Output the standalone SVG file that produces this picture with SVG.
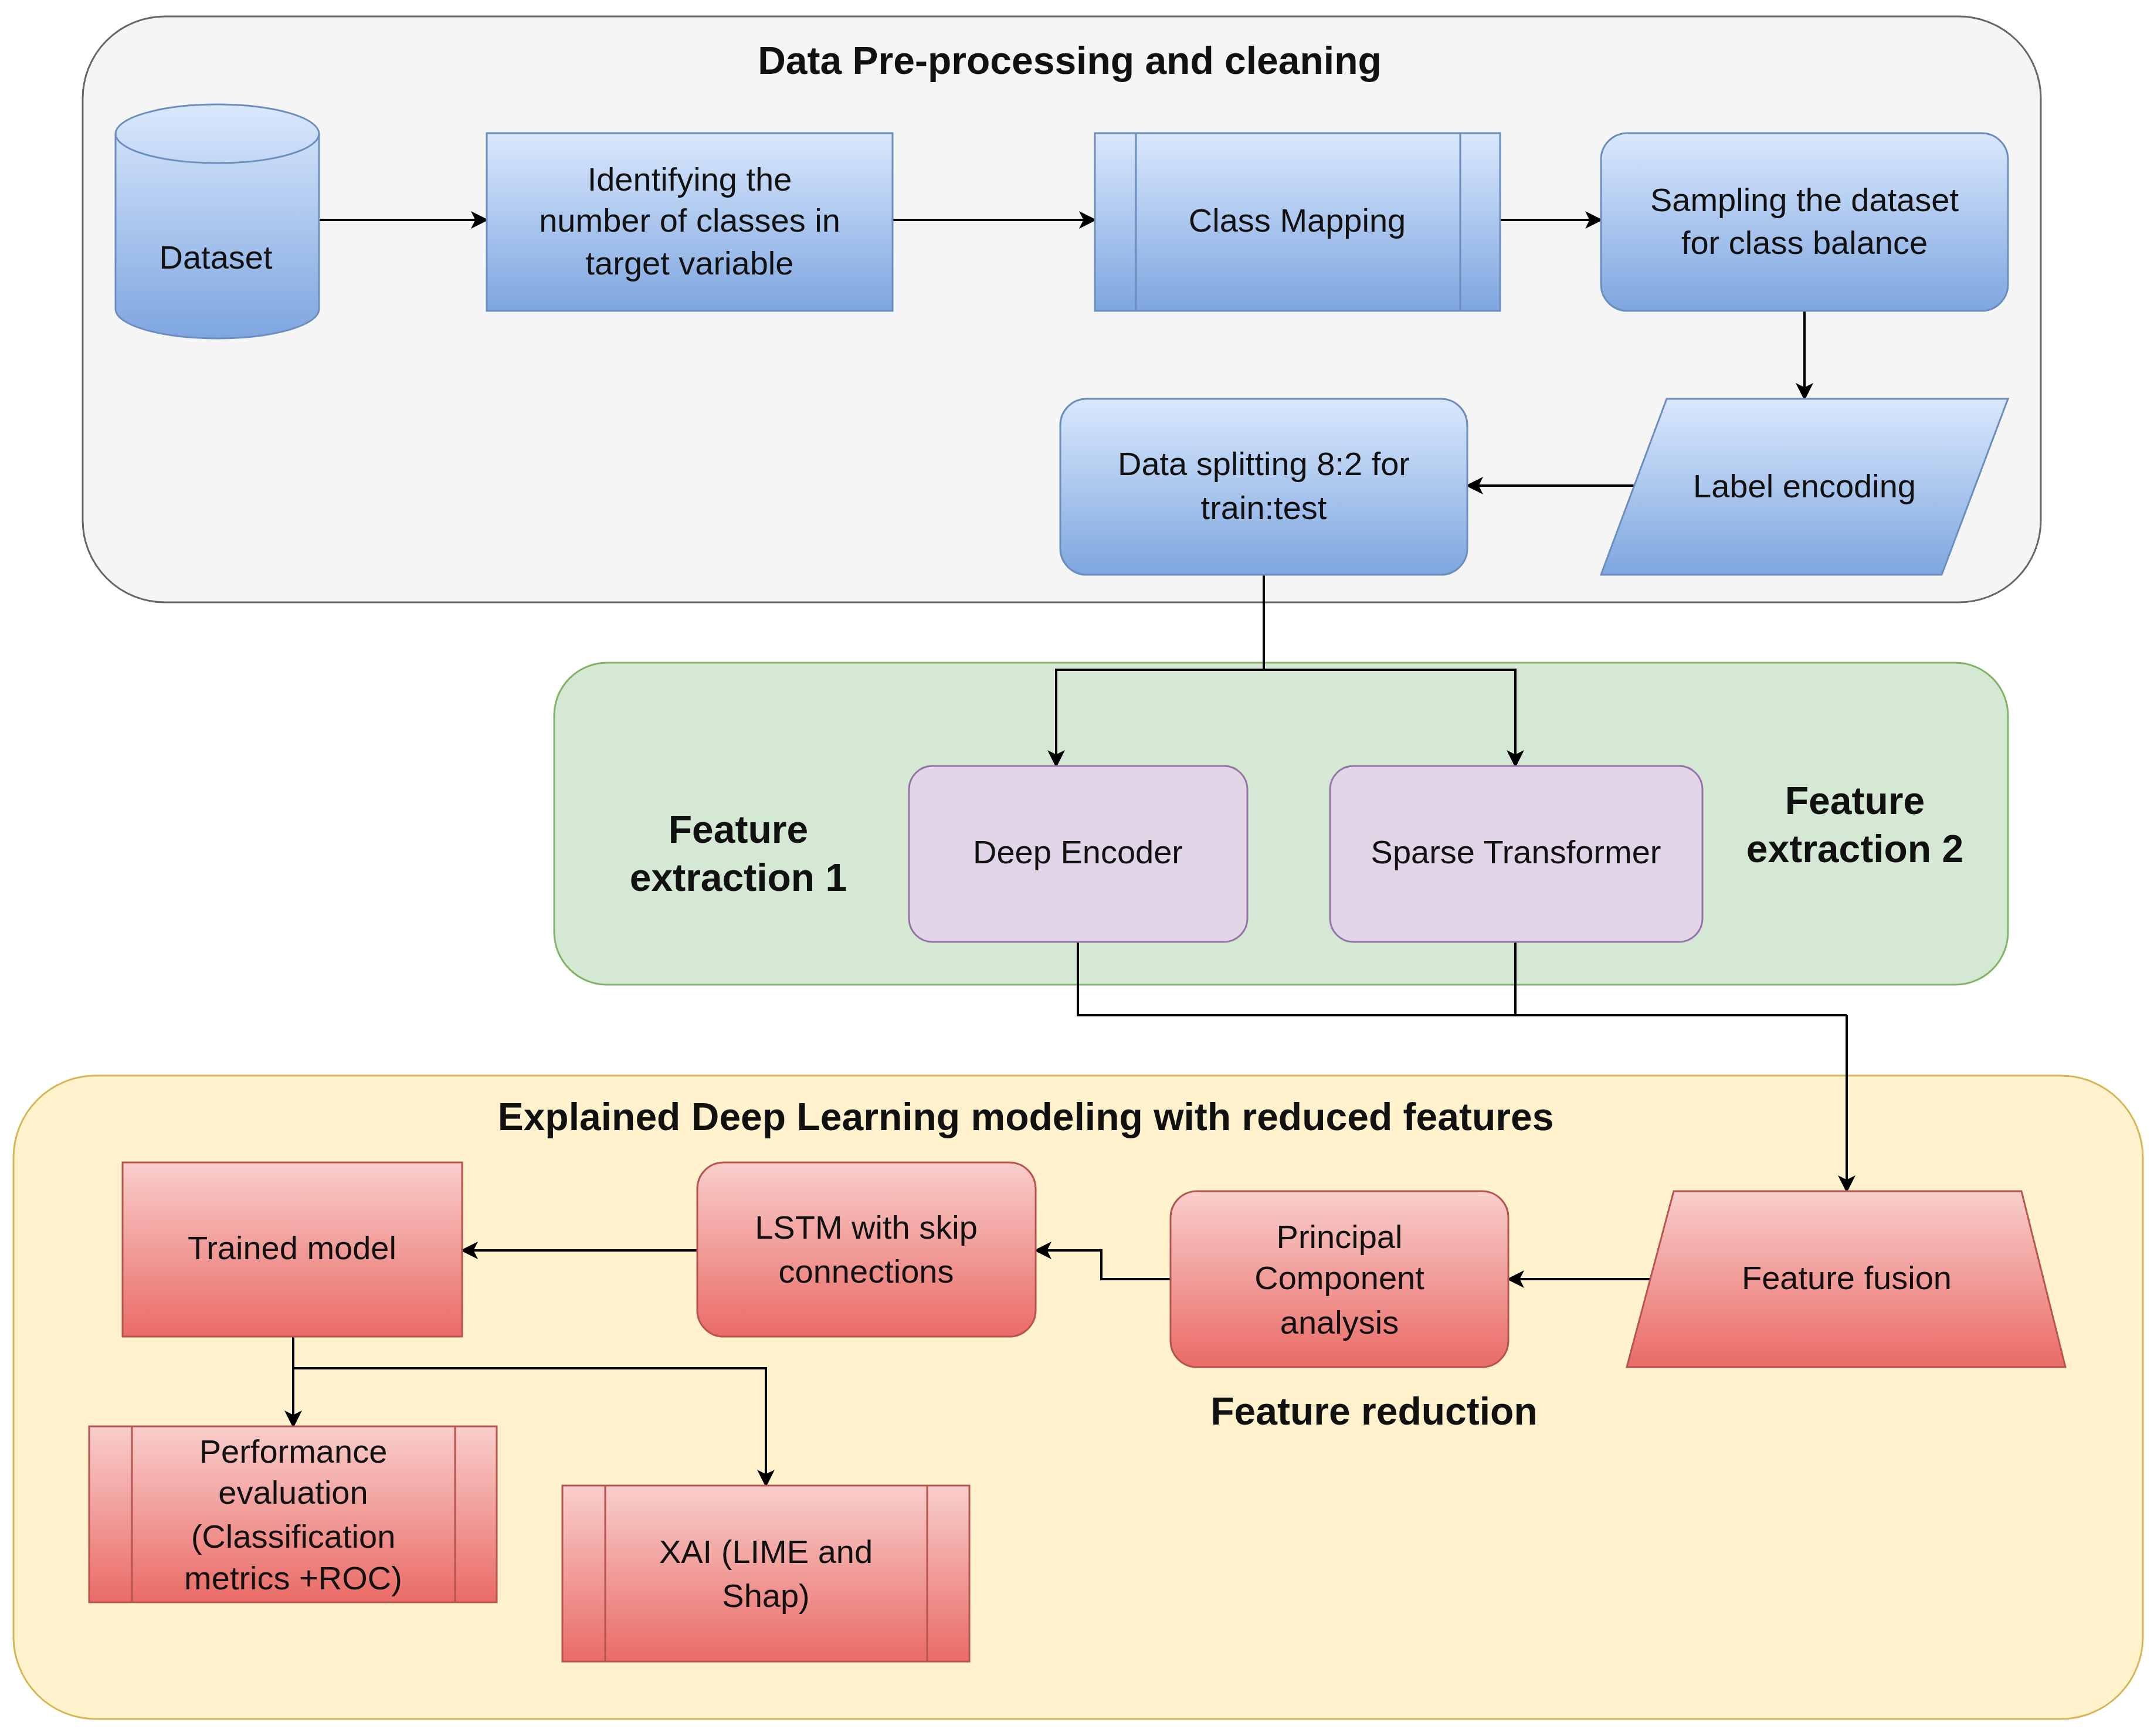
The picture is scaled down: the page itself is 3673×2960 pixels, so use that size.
<svg xmlns="http://www.w3.org/2000/svg" width="3673" height="2960" viewBox="0 0 3673 2960">
<defs>
<linearGradient id="gb" x1="0" y1="0" x2="0" y2="1"><stop offset="0" stop-color="#dae8fc"/><stop offset="1" stop-color="#7ea6e0"/></linearGradient>
<linearGradient id="gr" x1="0" y1="0" x2="0" y2="1"><stop offset="0" stop-color="#f8cecc"/><stop offset="1" stop-color="#ea6b66"/></linearGradient>
<marker id="ar" viewBox="0 0 10 10" refX="9" refY="5" markerWidth="10" markerHeight="10" markerUnits="userSpaceOnUse" orient="auto"><path d="M0,0 L10,5 L0,10 L2.5,5 Z" fill="#000"/></marker>
<marker id="a" viewBox="0 0 10 10" refX="9" refY="5" markerWidth="30" markerHeight="30" markerUnits="userSpaceOnUse" orient="auto"><path d="M0,0 L10,5 L0,10 L2.5,5 Z" fill="#000"/></marker>
</defs>
<style>
.b{fill:url(#gb);stroke:#6c8ebf;stroke-width:3}
.r{fill:url(#gr);stroke:#b85450;stroke-width:3}
.p{fill:#e1d5e7;stroke:#9673a6;stroke-width:3}
.t{font-family:"Liberation Sans",Arial,sans-serif;font-size:56px;fill:#111;text-anchor:middle;dominant-baseline:central}
.h{font-family:"Liberation Sans",Arial,sans-serif;font-size:66px;font-weight:bold;fill:#111;text-anchor:middle;dominant-baseline:central}
.c{fill:none;stroke:#000;stroke-width:4;marker-end:url(#a)}
.n{fill:none;stroke:#000;stroke-width:4}
</style>
<rect width="3673" height="2960" fill="#fff"/>
<g id="containers">
<rect x="141" y="28" width="3339" height="999" rx="140" fill="#f5f5f5" stroke="#666" stroke-width="3"/>
<rect x="945" y="1130" width="2479" height="549" rx="90" fill="#d5e8d4" stroke="#82b366" stroke-width="3"/>
<rect x="23" y="1834" width="3631" height="1097" rx="140" fill="#fff2cc" stroke="#d6b656" stroke-width="3"/>
<text class="h" x="1824" y="103">Data Pre-processing and cleaning</text>
<text class="h" x="1749" y="1904">Explained Deep Learning modeling with reduced features</text>
<text class="h" x="1259" y="1414">Feature</text><text class="h" x="1259" y="1496">extraction 1</text>
<text class="h" x="3163" y="1365">Feature</text><text class="h" x="3163" y="1447">extraction 2</text>
<text class="h" x="2343" y="2406">Feature reduction</text>
</g>
<g id="connectors">
<path class="c" d="M544,375 H830"/>
<path class="c" d="M1522,375 H1867"/>
<path class="c" d="M2558,375 H2730"/>
<path class="c" d="M3077,530 V680"/>
<path class="c" d="M2786,828 H2502"/>
<path class="n" d="M2155,980 V1142"/>
<path class="c" d="M2155,1142 H1801 V1306"/>
<path class="c" d="M2155,1142 H2584 V1306"/>
<path class="n" d="M1838,1606 V1731 H3149"/>
<path class="n" d="M2584,1606 V1731"/>
<path class="c" d="M3149,1731 V2031"/>
<path class="c" d="M2830,2181 H2572"/>
<path class="c" d="M1996,2181 H1878 V2132 H1766"/>
<path class="c" d="M1189,2132 H788"/>
<path class="c" d="M500,2279 V2432"/>
<path class="c" d="M500,2333 H1306 V2533"/>
</g>
<g id="dataset">
<path class="b" d="M197,228 A173.5,50 0 0 1 544,228 V527 A173.5,50 0 0 1 197,527 Z"/>
<path d="M197,228 A173.5,50 0 0 0 544,228" fill="none" stroke="#6c8ebf" stroke-width="3"/>
<text class="t" x="368" y="438">Dataset</text>
</g>
<g id="identify">
<rect class="b" x="830" y="227" width="692" height="303"/>
<text class="t" x="1176" y="305">Identifying the</text><text class="t" x="1176" y="375">number of classes in</text><text class="t" x="1176" y="448">target variable</text>
</g>
<g id="classmap">
<rect class="b" x="1867" y="227" width="691" height="303"/>
<path d="M1937,227 V530 M2490,227 V530" stroke="#6c8ebf" stroke-width="3"/>
<text class="t" x="2212" y="375">Class Mapping</text>
</g>
<g id="sampling">
<rect class="b" x="2730" y="227" width="694" height="303" rx="45"/>
<text class="t" x="3077" y="340">Sampling the dataset</text><text class="t" x="3077" y="413">for class balance</text>
</g>
<g id="label">
<path class="b" d="M2842,680 H3424 L3311,980 H2730 Z"/>
<text class="t" x="3077" y="828">Label encoding</text>
</g>
<g id="split">
<rect class="b" x="1808" y="680" width="694" height="300" rx="45"/>
<text class="t" x="2155" y="790">Data splitting 8:2 for</text><text class="t" x="2155" y="865">train:test</text>
</g>
<g id="deepenc">
<rect class="p" x="1550" y="1306" width="577" height="300" rx="40"/>
<text class="t" x="1838" y="1452">Deep Encoder</text>
</g>
<g id="sparse">
<rect class="p" x="2268" y="1306" width="635" height="300" rx="40"/>
<text class="t" x="2585" y="1452">Sparse Transformer</text>
</g>
<g id="fusion">
<path class="r" d="M2854,2031 H3447 L3522,2331 H2774 Z"/>
<text class="t" x="3149" y="2178">Feature fusion</text>
</g>
<g id="pca">
<rect class="r" x="1996" y="2031" width="576" height="300" rx="45"/>
<text class="t" x="2284" y="2108">Principal</text><text class="t" x="2284" y="2178">Component</text><text class="t" x="2284" y="2254">analysis</text>
</g>
<g id="lstm">
<rect class="r" x="1189" y="1982" width="577" height="297" rx="45"/>
<text class="t" x="1477" y="2092">LSTM with skip</text><text class="t" x="1477" y="2167">connections</text>
</g>
<g id="trained">
<rect class="r" x="209" y="1982" width="579" height="297"/>
<text class="t" x="498" y="2127">Trained model</text>
</g>
<g id="perf">
<rect class="r" x="152" y="2432" width="695" height="300"/>
<path d="M225,2432 V2732 M776,2432 V2732" stroke="#b85450" stroke-width="3"/>
<text class="t" x="500" y="2474">Performance</text><text class="t" x="500" y="2544">evaluation</text><text class="t" x="500" y="2619">(Classification</text><text class="t" x="500" y="2690">metrics +ROC)</text>
</g>
<g id="xai">
<rect class="r" x="959" y="2533" width="694" height="300"/>
<path d="M1032,2533 V2833 M1581,2533 V2833" stroke="#b85450" stroke-width="3"/>
<text class="t" x="1306" y="2645">XAI (LIME and</text><text class="t" x="1306" y="2720">Shap)</text>
</g>
</svg>
